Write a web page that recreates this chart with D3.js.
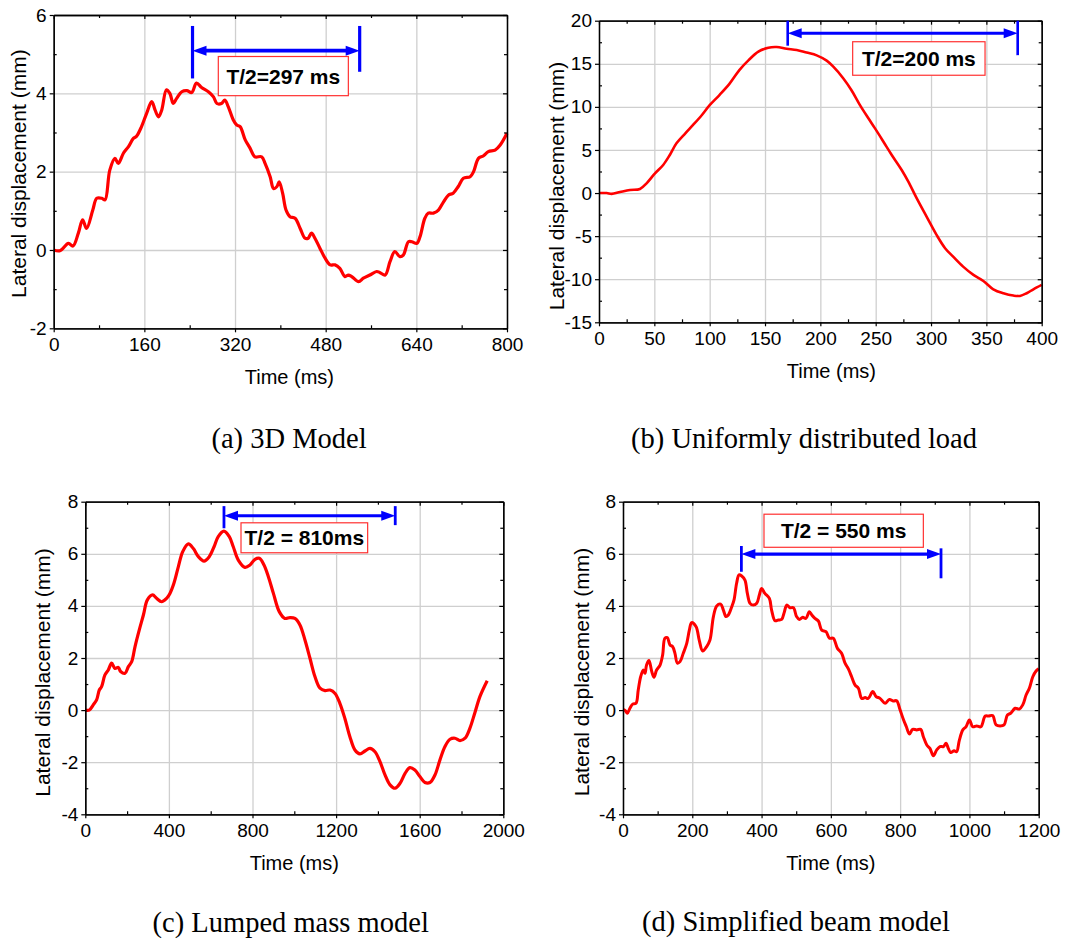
<!DOCTYPE html>
<html>
<head>
<meta charset="utf-8">
<script src="https://cdn.jsdelivr.net/npm/d3@7"></script>
<style>
  body { margin: 0; background: #fff; }
  svg text { font-family: "Liberation Sans", Arial, sans-serif; fill: #000; }
  .caption { font-family: "Liberation Serif", "Times New Roman", serif; }
</style>
</head>
<body>
<div id="chart"></div>
<script>

// ---------- data ----------

// (a) 3D Model
var timeA = [0, 11, 26, 34, 43.5, 51, 58, 69, 76, 85, 90.6, 99, 108, 114, 123, 132, 140.6, 146, 155, 164,
  173, 179, 185, 190.6, 199, 205, 211, 217, 226, 235, 243.5, 252, 261, 273, 282, 288, 296, 302, 308, 317,
  323, 329, 338, 346.5, 355, 367, 373, 382, 388, 394, 398, 404, 410, 417, 426, 435, 443.5, 449, 455, 461,
  470, 479, 488, 496.5, 505, 514, 520, 526, 538, 546.5, 558, 570, 576, 585, 593.5, 602, 611, 617, 626, 632,
  641, 646.5, 655, 661, 670, 679, 688, 696.5, 705, 714, 723, 735, 741, 749.6, 758, 767, 779, 788, 800];
var dispA = [0, -0.02, 0.17, 0.1, 0.43, 0.77, 0.55, 1.02, 1.32, 1.32, 1.28, 2.04, 2.34, 2.21, 2.47, 2.64, 2.85, 2.9, 3.15, 3.49,
  3.79, 3.57, 3.4, 3.57, 4.09, 4.0, 3.74, 3.87, 4.04, 4.07, 4.02, 4.26, 4.15, 4.04, 3.91, 3.74, 3.74, 3.83, 3.66, 3.32,
  3.19, 3.15, 2.81, 2.6, 2.38, 2.38, 2.21, 1.87, 1.57, 1.62, 1.74, 1.45, 1.02, 0.85, 0.81, 0.55, 0.3, 0.3, 0.43, 0.3,
  0.04, -0.21, -0.38, -0.38, -0.47, -0.68, -0.64, -0.68, -0.81, -0.72, -0.64, -0.55, -0.58, -0.64, -0.3, -0.04, -0.17, -0.13, 0.21, 0.21,
  0.17, 0.34, 0.81, 0.94, 0.94, 1.02, 1.23, 1.4, 1.45, 1.62, 1.83, 1.87, 2.0, 2.34, 2.4, 2.51, 2.55, 2.68, 2.98];

// (b) Uniformly distributed load
var timeB = [0, 7, 11.4, 19, 28, 37, 43, 50.6, 58, 64, 70, 78, 85, 93, 100, 109, 118, 127, 135, 144,
  153, 160.5, 169.6, 178.6, 187.6, 196.7, 205.7, 211.7, 220.8, 228, 235.8, 243.4, 249.4, 257, 264.5,
  273.5, 279.5, 287, 296, 305, 312.7, 320, 329, 338.3, 347.3, 356.3, 365.4, 374.4, 380.4, 386.4, 392.5, 400];
var dispB = [0, 0, -0.1, 0.12, 0.36, 0.47, 1.13, 2.29, 3.26, 4.42, 5.77, 6.93, 7.9, 9.06, 10.2, 11.4, 12.7, 14.3, 15.4, 16.4,
  16.87, 16.95, 16.75, 16.6, 16.3, 15.98, 15.36, 14.66, 13.3, 11.96, 10.2, 8.67, 7.5, 5.96, 4.42,
  2.68, 1.32, -0.6, -2.74, -4.86, -6.4, -7.38, -8.54, -9.5, -10.2, -11.17, -11.63, -11.9, -11.94, -11.63, -11.17, -10.66];

// (c) Lumped mass model
var timeC = [0, 19, 38, 54, 67, 78, 94, 110, 126, 142, 158, 169, 190, 206, 222, 238, 258, 278, 297, 322,
  341, 365, 389, 405, 424, 445, 466, 493, 517, 541, 568, 593, 616, 636, 663, 689, 708, 732, 764, 788,
  812, 833, 855, 876, 900, 928, 955, 979, 1003, 1027, 1051, 1075, 1099, 1123, 1147, 1171, 1195, 1218, 1242, 1266,
  1290, 1314, 1338, 1362, 1386, 1410, 1434, 1458, 1482, 1506, 1530, 1553, 1577, 1601, 1625, 1649, 1673, 1697, 1721, 1745,
  1769, 1793, 1817, 1840, 1864, 1888, 1923];
var dispC = [0, 0, 0.2, 0.39, 0.77, 0.9, 1.35, 1.54, 1.8, 1.6, 1.64, 1.48, 1.41, 1.67, 1.86, 2.44, 3.07, 3.65, 4.23, 4.42,
  4.29, 4.16, 4.29, 4.48, 4.87, 5.5, 6.08, 6.38, 6.2, 5.89, 5.72, 5.89, 6.27, 6.66, 6.87, 6.66, 6.27, 5.76, 5.48, 5.57,
  5.79, 5.83, 5.57, 5.12, 4.48, 3.78, 3.52, 3.55, 3.52, 3.27, 2.69, 1.99, 1.28, 0.84, 0.75, 0.77, 0.64, 0.26, -0.32, -1.02,
  -1.53, -1.68, -1.57, -1.47, -1.6, -1.98, -2.49, -2.87, -3.0, -2.81, -2.43, -2.21, -2.3, -2.55, -2.78, -2.78, -2.49, -1.91, -1.4, -1.12,
  -1.08, -1.17, -1.08, -0.7, -0.1, 0.52, 1.13];

// (d) Simplified beam model
var timeD = [0, 6.7, 12.5, 20, 28, 37.5, 44, 51, 58.7, 63.5, 68, 75, 83, 89.5, 97, 107, 114.5, 121, 128, 135.7,
  143, 150, 157, 164.6, 174, 184, 191.5, 198, 211, 220, 230, 241.6, 251, 261, 270.5, 282, 289.7, 297.4, 304, 314,
  320.5, 328, 335, 342.6, 352, 359, 366.7, 376, 386, 393.6, 400, 409.6, 422.5, 429, 439, 448.5, 458, 466, 472.6, 482,
  492, 501, 509, 519, 528, 538, 545, 554, 564, 573.6, 586, 596, 607, 619, 631, 641, 650.6, 660, 670, 679.5,
  689, 699, 708, 721, 730.5, 742, 756.5, 769, 780.5, 790, 800, 810, 818, 826.7, 836, 848, 859.5, 867, 877, 886,
  896, 905.7, 915, 925, 932.6, 939, 946, 956, 963, 971, 981, 990, 1000, 1009.6, 1021, 1033, 1045.6, 1055, 1067, 1077,
  1088.5, 1100, 1109.7, 1119, 1132, 1144, 1154, 1163.6, 1173, 1183, 1192.5, 1200];
var dispD = [0.03, -0.02, -0.12, 0.07, 0.23, 0.26, 0.77, 1.28, 1.54, 1.41, 1.73, 1.9, 1.48, 1.26, 1.54, 1.73, 2.12, 2.76, 2.78, 2.5,
  2.44, 2.18, 1.8, 1.86, 2.18, 2.56, 3.07, 3.36, 3.2, 2.69, 2.27, 2.44, 2.69, 3.59, 4.0, 4.07, 3.84, 3.59, 3.65, 3.97,
  4.23, 4.87, 5.19, 5.15, 4.99, 4.48, 4.1, 4.03, 4.1, 4.42, 4.67, 4.48, 4.29, 3.84, 3.43, 3.46, 3.48, 3.78, 4.03, 3.93,
  3.93, 3.59, 3.48, 3.56, 3.52, 3.78, 3.65, 3.52, 3.42, 3.07, 3.01, 2.76, 2.76, 2.37, 2.18, 1.8, 1.58, 1.28, 0.96, 0.84,
  0.45, 0.48, 0.45, 0.71, 0.52, 0.45, 0.26, 0.41, 0.35, 0.36, 0.0, -0.38, -0.64, -0.92, -0.74, -0.76, -0.74, -1.02, -1.34, -1.47,
  -1.75, -1.53, -1.4, -1.4, -1.27, -1.47, -1.63, -1.56, -1.6, -1.15, -0.76, -0.64, -0.38, -0.64, -0.61, -0.64, -0.23, -0.23, -0.21, -0.57,
  -0.61, -0.57, -0.19, -0.12, 0.07, 0.04, 0.2, 0.58, 0.84, 1.28, 1.5, 1.59];

// tick values (major labelled, minor unlabelled)
var xTicksA = [0, 160, 320, 480, 640, 800];
var xMinorA = [80, 240, 400, 560, 720];
var yTicksA = [-2, 0, 2, 4, 6];
var yMinorA = [-1, 1, 3, 5];

var xTicksB = [0, 50, 100, 150, 200, 250, 300, 350, 400];
var xMinorB = [25, 75, 125, 175, 225, 275, 325, 375];
var yTicksB = [-15, -10, -5, 0, 5, 10, 15, 20];
var yMinorB = [-12.5, -7.5, -2.5, 2.5, 7.5, 12.5, 17.5];

var xTicksC = [0, 400, 800, 1200, 1600, 2000];
var xMinorC = [200, 600, 1000, 1400, 1800];
var yTicksC = [-4, -2, 0, 2, 4, 6, 8];
var yMinorC = [-3, -1, 1, 3, 5, 7];

var xTicksD = [0, 200, 400, 600, 800, 1000, 1200];
var xMinorD = [100, 300, 500, 700, 900, 1100];
var yTicksD = [-4, -2, 0, 2, 4, 6, 8];
var yMinorD = [-3, -1, 1, 3, 5, 7];

// half-period annotations: [start, end] in ms, arrow level, bar extents, label box (data units)
var spanA = [245, 540];  var arrowYA = 5.09; var barsA = [[5.72, 4.38], [5.72, 4.55]]; var boxA = [290.5, 520, 4.94, 3.94];
var spanB = [170.5, 378.3]; var arrowYB = 18.53; var barsB = [[20, 17.1], [20, 16.0]]; var boxB = [229.2, 348.8, 17.56, 13.67];
var spanC = [663.5, 1483]; var arrowYC = 7.46; var barsC = [[7.83, 6.98], [7.83, 7.1]]; var boxC = [745, 1351, 7.19, 6.04];
var spanD = [341.7, 918]; var arrowYD = 5.99; var barsD = [[6.3, 5.31], [6.21, 5.06]]; var boxD = [407, 867, 7.52, 6.25];

var labels = ["T/2=297 ms", "T/2=200 ms", "T/2 = 810ms", "T/2 = 550 ms"];
var captions = ["(a) 3D Model", "(b) Uniformly distributed load", "(c) Lumped mass model", "(d) Simplified beam model"];

// ---------- layout ----------
var svg = d3.select("#chart")
  .append("svg")
  .attr("width", 1084)
  .attr("height", 942)
  .style("background", "#fff");

var panels = [
  { left: 53.7, top: 15, width: 453.3, height: 313.3, xDomain: [0, 800], yDomain: [-2, 6],
    time: timeA, disp: dispA, xTicks: xTicksA, xMinor: xMinorA, yTicks: yTicksA, yMinor: yMinorA,
    span: spanA, arrowY: arrowYA, bars: barsA, box: boxA, label: labels[0], caption: captions[0],
    capX: 289, capY: 448, yTitleDx: 35.4, yTitleDy: 2, xTitleDx: 9, lw: 3.2, aw: 3.6 },
  { left: 599, top: 20.7, width: 442.7, height: 301.6, xDomain: [0, 400], yDomain: [-15, 20],
    time: timeB, disp: dispB, xTicks: xTicksB, xMinor: xMinorB, yTicks: yTicksB, yMinor: yMinorB,
    span: spanB, arrowY: arrowYB, bars: barsB, box: boxB, label: labels[1], caption: captions[1],
    capX: 804, capY: 448, yTitleDx: 42, yTitleDy: 14.5, xTitleDx: 11, lw: 2.6, aw: 3 },
  { left: 85.3, top: 501.7, width: 418, height: 312.6, xDomain: [0, 2000], yDomain: [-4, 8],
    time: timeC, disp: dispC, xTicks: xTicksC, xMinor: xMinorC, yTicks: yTicksC, yMinor: yMinorC,
    span: spanC, arrowY: arrowYC, bars: barsC, box: boxC, label: labels[2], caption: captions[2],
    capX: 290.7, capY: 931.5, yTitleDx: 43, yTitleDy: 14.5, xTitleDx: 0, lw: 3.2, aw: 3.2 },
  { left: 623, top: 501.7, width: 415.7, height: 312.6, xDomain: [0, 1200], yDomain: [-4, 8],
    time: timeD, disp: dispD, xTicks: xTicksD, xMinor: xMinorD, yTicks: yTicksD, yMinor: yMinorD,
    span: spanD, arrowY: arrowYD, bars: barsD, box: boxD, label: labels[3], caption: captions[3],
    capX: 796, capY: 931, yTitleDx: 41.3, yTitleDy: 14, xTitleDx: 0, lw: 3, aw: 3.2 }
];

// plain numbers with ascii minus, no thousands separator
var plain = d => String(d);

function styleAxis(sel, fontSize) {
  sel.select(".domain").attr("stroke", "#000").attr("stroke-width", 1.3);
  sel.selectAll(".tick line").attr("stroke", "#000").attr("stroke-width", 1.2);
  sel.selectAll(".tick text").style("font-size", fontSize + "px").attr("fill", "#000");
}

function drawPanel(p) {
  var g = svg.append("g")
    .attr("transform", `translate(${p.left}, ${p.top})`);

  var x = d3.scaleLinear().domain(p.xDomain).range([0, p.width]);
  var y = d3.scaleLinear().domain(p.yDomain).range([p.height, 0]);

  var xInner = p.xTicks.filter(d => d > p.xDomain[0] && d < p.xDomain[1]);
  var yInner = p.yTicks.filter(d => d > p.yDomain[0] && d < p.yDomain[1]);

  // grid lines
  g.append("g")
    .attr("transform", `translate(0, ${p.height})`)
    .call(d3.axisBottom(x).tickValues(xInner).tickSize(-p.height).tickFormat(""))
    .call(s => s.select(".domain").remove())
    .selectAll("line").attr("stroke", "#cfcfcf").attr("stroke-width", 1.3);

  g.append("g")
    .call(d3.axisLeft(y).tickValues(yInner).tickSize(-p.width).tickFormat(""))
    .call(s => s.select(".domain").remove())
    .selectAll("line").attr("stroke", "#cfcfcf").attr("stroke-width", 1.3);

  // displacement curve
  var pts = p.time.map((t, i) => [t, p.disp[i]]);
  var line = d3.line()
    .x(d => x(d[0]))
    .y(d => y(d[1]))
    .curve(d3.curveCatmullRom.alpha(0.5));

  g.append("path")
    .datum(pts)
    .attr("d", line)
    .attr("fill", "none")
    .attr("stroke", "#ff0000")
    .attr("stroke-width", p.lw)
    .attr("stroke-linejoin", "round");

  // axes: bottom/left ticks outward (major) and inward (minor), top/right inward
  g.append("g").attr("transform", `translate(0, ${p.height})`)
    .call(d3.axisBottom(x).tickValues(p.xTicks).tickFormat(plain).tickSize(4).tickSizeOuter(0).tickPadding(5))
    .call(s => styleAxis(s, 19));
  g.append("g").attr("transform", `translate(0, ${p.height})`)
    .call(d3.axisBottom(x).tickValues(p.xMinor).tickSize(-3).tickSizeOuter(0).tickFormat(""))
    .call(s => styleAxis(s, 19));
  g.append("g")
    .call(d3.axisLeft(y).tickValues(p.yTicks).tickFormat(plain).tickSize(4).tickSizeOuter(0).tickPadding(3))
    .call(s => styleAxis(s, 19));
  g.append("g")
    .call(d3.axisLeft(y).tickValues(p.yMinor).tickSize(-3).tickSizeOuter(0).tickFormat(""))
    .call(s => styleAxis(s, 19));
  g.append("g")
    .call(d3.axisTop(x).tickValues(p.xTicks).tickSize(-4).tickSizeOuter(0).tickFormat(""))
    .call(s => styleAxis(s, 19));
  g.append("g")
    .call(d3.axisTop(x).tickValues(p.xMinor).tickSize(-3).tickSizeOuter(0).tickFormat(""))
    .call(s => styleAxis(s, 19));
  g.append("g").attr("transform", `translate(${p.width}, 0)`)
    .call(d3.axisRight(y).tickValues(p.yTicks).tickSize(-4).tickSizeOuter(0).tickFormat(""))
    .call(s => styleAxis(s, 19));
  g.append("g").attr("transform", `translate(${p.width}, 0)`)
    .call(d3.axisRight(y).tickValues(p.yMinor).tickSize(-3).tickSizeOuter(0).tickFormat(""))
    .call(s => styleAxis(s, 19));

  // axis titles
  g.append("text")
    .attr("x", p.width / 2 + p.xTitleDx)
    .attr("y", p.height + 55.5)
    .attr("text-anchor", "middle")
    .style("font-size", "20px")
    .text("Time (ms)");

  g.append("text")
    .attr("transform", `translate(${-p.yTitleDx}, ${p.height / 2 + p.yTitleDy}) rotate(-90)`)
    .attr("dy", "0.35em")
    .attr("text-anchor", "middle")
    .style("font-size", "21px")
    .text("Lateral displacement (mm)");

  // half-period marker
  var blue = "#0000ff";
  var x0 = x(p.span[0]), x1 = x(p.span[1]), ya = y(p.arrowY);
  var head = 14, half = 5;

  g.append("line")
    .attr("x1", x0).attr("x2", x0)
    .attr("y1", y(p.bars[0][0])).attr("y2", y(p.bars[0][1]))
    .attr("stroke", blue).attr("stroke-width", p.aw - 0.4);
  g.append("line")
    .attr("x1", x1).attr("x2", x1)
    .attr("y1", y(p.bars[1][0])).attr("y2", y(p.bars[1][1]))
    .attr("stroke", blue).attr("stroke-width", p.aw - 0.4);
  g.append("line")
    .attr("x1", x0 + head - 2).attr("x2", x1 - head + 2)
    .attr("y1", ya).attr("y2", ya)
    .attr("stroke", blue).attr("stroke-width", p.aw);
  g.append("path")
    .attr("d", `M${x0},${ya}L${x0 + head},${ya - half}L${x0 + head},${ya + half}Z`)
    .attr("fill", blue);
  g.append("path")
    .attr("d", `M${x1},${ya}L${x1 - head},${ya - half}L${x1 - head},${ya + half}Z`)
    .attr("fill", blue);

  // label box
  var bx0 = x(p.box[0]), bx1 = x(p.box[1]), by0 = y(p.box[2]), by1 = y(p.box[3]);
  g.append("rect")
    .attr("x", bx0).attr("y", by0)
    .attr("width", bx1 - bx0).attr("height", by1 - by0)
    .attr("fill", "#fff")
    .attr("stroke", "#ff3030")
    .attr("stroke-width", 1.2);
  g.append("text")
    .attr("x", (bx0 + bx1) / 2)
    .attr("y", (by0 + by1) / 2)
    .attr("dy", "0.36em")
    .attr("text-anchor", "middle")
    .style("font-size", "21px")
    .style("font-weight", "bold")
    .text(p.label);

  // caption under the panel
  svg.append("text")
    .attr("class", "caption")
    .attr("x", p.capX)
    .attr("y", p.capY)
    .attr("text-anchor", "middle")
    .style("font-size", "28.5px")
    .text(p.caption);
}

panels.forEach(drawPanel);

</script>
</body>
</html>
